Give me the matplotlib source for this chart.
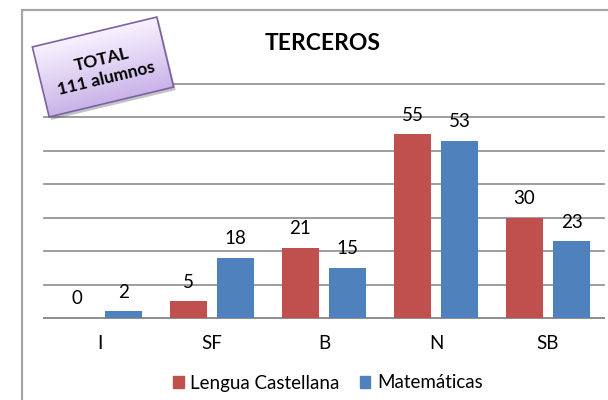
import numpy as np
import matplotlib
matplotlib.use('Agg')
import matplotlib.pyplot as plt
from matplotlib.patches import Patch, Polygon, Rectangle

plt.rcParams['font.family'] = ['Lato', 'DejaVu Sans']

categories = ['I', 'SF', 'B', 'N', 'SB']
lengua = [0, 5, 21, 55, 30]
matematicas = [2, 18, 15, 53, 23]
series_names = ['Lengua Castellana', 'Matemáticas']
title = 'TERCEROS'
box_text = 'TOTAL\n111 alumnos'

RED = '#C0504D'
BLUE = '#4F81BD'
W, H = 608, 400

fig = plt.figure(figsize=(W / 100, H / 100), dpi=100)

# outer chart border (only left/top visible in the crop)
fig.add_artist(Rectangle((22 / W, -0.1), 1.0, (H - 10) / H + 0.1,
                         transform=fig.transFigure, fill=False,
                         edgecolor='#a6a6a6', linewidth=1.6))

ax = fig.add_axes([44 / W, (H - 318) / H, 560 / W, 234 / H])
x = np.arange(len(categories))
bw = 0.33
off = 0.21
b1 = ax.bar(x - off, lengua, bw, color=RED, zorder=3)
b2 = ax.bar(x + off, matematicas, bw, color=BLUE, zorder=3)

for bars, vals in ((b1, lengua), (b2, matematicas)):
    for rect, v in zip(bars, vals):
        ax.annotate(str(v), (rect.get_x() + rect.get_width() / 2, v),
                    xytext=(0, 19), textcoords='offset pixels',
                    ha='center', va='center', fontsize=13.5, zorder=4)

ax.set_xlim(-0.5, len(categories) - 0.5)
ax.set_ylim(0, 70)
ax.set_yticks(np.arange(0, 71, 10))
ax.set_yticklabels([])
ax.tick_params(axis='y', length=0)
ax.set_xticks(x)
ax.set_xticklabels(categories, fontsize=13.5)
ax.tick_params(axis='x', length=0, pad=12)
ax.yaxis.grid(True, color='#8c8c8c', linewidth=1.2, zorder=0)
for s in ('top', 'right', 'left'):
    ax.spines[s].set_visible(False)
ax.spines['bottom'].set_color('#8c8c8c')
ax.spines['bottom'].set_linewidth(1.2)
for gl in ax.get_ygridlines():
    gl.set_clip_on(False)

fig.text(323 / W, 1 - 44 / H, title, ha='center', va='center',
         fontsize=16.5, fontweight='bold')

handles = [Patch(color=RED), Patch(color=BLUE)]
fig.legend(handles, series_names, loc='center', ncol=2,
           bbox_to_anchor=(328 / W, 17 / H), frameon=False, fontsize=13.5,
           handlelength=0.55, handleheight=0.55, handletextpad=0.35,
           columnspacing=1.1)

# rotated "TOTAL" box with gradient, drawn in pixel space overlay
ov = fig.add_axes([0, 0, 1, 1], zorder=10)
ov.set_xlim(0, W)
ov.set_ylim(H, 0)
ov.axis('off')

cx, cy, bwid, bhei, ang = 103, 67, 128, 72, np.deg2rad(13.5)
ux = np.array([np.cos(ang), -np.sin(ang)])
uy = np.array([np.sin(ang), np.cos(ang)])
c = np.array([cx, cy])
corners = np.array([c - ux * bwid / 2 - uy * bhei / 2,
                    c + ux * bwid / 2 - uy * bhei / 2,
                    c + ux * bwid / 2 + uy * bhei / 2,
                    c - ux * bwid / 2 + uy * bhei / 2])

shadow = Polygon(corners + np.array([2, 3]), closed=True, facecolor='#555555',
                 alpha=0.35, edgecolor='none', zorder=1)
ov.add_patch(shadow)

xs = np.linspace(20, 190, 200)
ys = np.linspace(5, 130, 150)
gx, gy = np.meshgrid(xs, ys)
t = ((gx - cx) * uy[0] + (gy - cy) * uy[1]) / bhei + 0.5
t = np.clip(t, 0, 1)
top_col = np.array([0.97, 0.95, 1.0])
bot_col = np.array([0.79, 0.70, 0.91])
img = top_col[None, None, :] * (1 - t[..., None]) + bot_col[None, None, :] * t[..., None]
im = ov.imshow(img, extent=(xs[0], xs[-1], ys[-1], ys[0]), origin='upper',
               interpolation='bilinear', aspect='auto', zorder=2)
box = Polygon(corners, closed=True, facecolor='none', edgecolor='#7b62a3',
              linewidth=1.2, zorder=3)
ov.add_patch(box)
im.set_clip_path(box)
ov.set_xlim(0, W)
ov.set_ylim(H, 0)
ov.text(cx + 1, cy + 2, box_text, ha='center', va='center', rotation=13.5,
        rotation_mode='anchor', fontsize=12.5, fontweight='bold',
        linespacing=1.25, zorder=4)

fig.savefig('out.png', dpi=100)
